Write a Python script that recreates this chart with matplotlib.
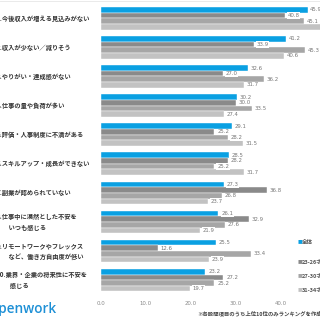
import numpy as np
import matplotlib.pyplot as plt
import matplotlib.transforms as mtransforms

plt.rcParams['font.family'] = ['Noto Sans CJK JP', 'DejaVu Sans']

reasons = [
    '1.今後収入が増える見込みがない',
    '2.収入が少ない／減りそう',
    '3.やりがい・達成感がない',
    '4.仕事の量や負荷が多い',
    '5.評価・人事制度に不満がある',
    '6.スキルアップ・成長ができない',
    '7.副業が認められていない',
    '8.仕事中に漠然とした不安を\n　　いつも感じる',
    '9.リモートワークやフレックス\n　　など、働き方自由度が低い',
    '10.業界・企業の将来性に不安を\n　　 感じる',
]
series_names = ['全体', '23-26才', '27-30才', '31-34才']
all_ages = [45.9, 41.2, 32.6, 30.2, 29.1, 28.5, 27.3, 26.1, 25.5, 23.2]
age_23_26 = [40.8, 33.9, 27.0, 30.0, 25.2, 28.2, 36.8, 32.9, 12.6, 27.2]
age_27_30 = [45.1, 45.3, 36.2, 33.5, 28.2, 25.2, 26.8, 27.6, 33.4, 25.2]
age_31_34 = [49.6, 40.6, 31.7, 27.4, 31.5, 31.7, 23.7, 21.9, 23.9, 19.7]
ticks = [0, 10, 20, 30, 40]
note = '※各設問項目のうち上位10位のみランキングを作成し'

colors = ['#0aa0e2', '#8a8a8a', '#a6a6a6', '#c2c2c2']
series = [all_ages, age_23_26, age_27_30, age_31_34]

fig = plt.figure(figsize=(3.2, 3.2), dpi=100, facecolor='w')
ax = fig.add_axes([101/320, 1 - 294/320, 219/320, 290/320])

bh = 0.194
y = np.arange(len(reasons))
for j, (vals, c) in enumerate(zip(series, colors)):
    yy = y + (j - 1.5) * bh
    ax.barh(yy, vals, height=bh, color=c, edgecolor='white', linewidth=0.3)
    for yv, v in zip(yy, vals):
        ax.text(v + 0.6, yv, '%.1f' % v, va='center', ha='left', fontsize=3.9,
                color='#777777', family='DejaVu Sans',
                bbox=dict(boxstyle='square,pad=0.12', fc='white', ec='none'))

ax.set_xlim(0, 219/4.5)
ax.set_ylim(9.475, -0.491)
ax.set_xticks(ticks)
ax.set_xticklabels(['%.1f' % t for t in ticks], fontsize=3.9, color='#888888',
                   family='DejaVu Sans')
ax.tick_params(axis='x', length=0, pad=5)
ax.set_yticks([])
for s in ax.spines.values():
    s.set_visible(False)

# category labels, left aligned in figure space
trans = mtransforms.blended_transform_factory(fig.transFigure, ax.transData)
for yv, lab in zip(y, reasons):
    ax.text(-3.5/320, yv, lab, transform=trans, ha='left', va='center',
            fontsize=4.5, fontweight='bold', color='#333333', linespacing=1.7,
            clip_on=False)

# legend
leg_y = [242, 262, 276, 290]
for name, c, ly in zip(series_names, colors, leg_y):
    fig.text(298/320, 1 - ly/320, '■', color=c, fontsize=3.5, va='center', ha='left')
    fig.text(302/320, 1 - ly/320, name, color='#555555', fontsize=4.0,
             fontweight='bold', va='center', ha='left')

fig.text(197/320, 1 - 313/320, note, fontsize=3.9, fontweight='bold',
         color='#444444', va='center', ha='left')
fig.text(-9.5/320, 1 - 309/320, 'openwork', fontsize=9.8, color='#1e90d6',
         family='Open Sans', fontweight='semibold', va='center', ha='left')
fig.add_artist(plt.Line2D([0, 1], [1 - 0.5/320, 1 - 0.5/320], color='#e6e6e6', lw=0.6))

plt.savefig('out.png', dpi=100, facecolor='w')
